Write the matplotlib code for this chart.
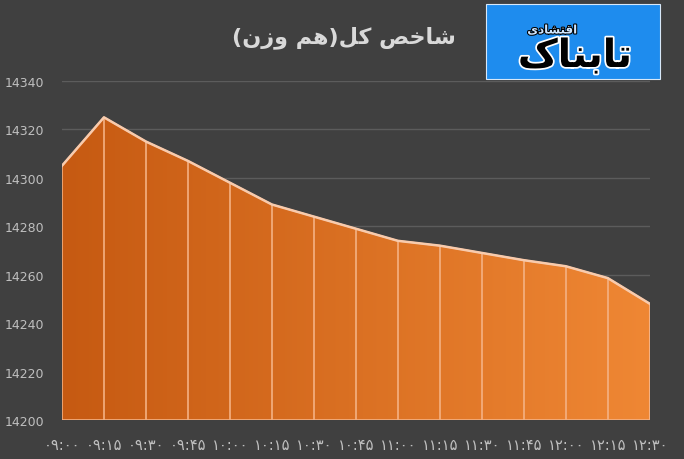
import numpy as np
import matplotlib
matplotlib.use("Agg")
import matplotlib.pyplot as plt
import matplotlib.patheffects as pe
from matplotlib.colors import LinearSegmentedColormap
from matplotlib.patches import Rectangle

plt.rcParams['font.family'] = ['DejaVu Sans']

# data
times = ['۰۹:۰۰', '۰۹:۱۵', '۰۹:۳۰', '۰۹:۴۵', '۱۰:۰۰', '۱۰:۱۵', '۱۰:۳۰', '۱۰:۴۵',
         '۱۱:۰۰', '۱۱:۱۵', '۱۱:۳۰', '۱۱:۴۵', '۱۲:۰۰', '۱۲:۱۵', '۱۲:۳۰']
values = [14305, 14325, 14315, 14307, 14298, 14289, 14284, 14279,
          14274, 14272, 14269, 14266, 14263.5, 14258.6, 14248]
yticks = [14200, 14220, 14240, 14260, 14280, 14300, 14320, 14340]

# Persian strings in visual order with presentation forms (matplotlib has no shaping)
title = "(\uFEE5\uFEAF\uFEED \uFEE2\uFEEB)\uFEDE\uFB90 \uFEBA\uFEA7\uFE8E\uFEB7"  # شاخص کل(هم وزن)
logo_big = "\uFB8E\uFE8E\uFEE8\uFE91\uFE8E\uFE97"          # تابناک
logo_small = "\uFEEF\uFEA9\uFE8E\uFEB8\uFE98\uFED7\uFE8D"  # اقتصادی

bg = '#404040'
fig = plt.figure(figsize=(6.84, 4.6), dpi=100, facecolor=bg)
ax = fig.add_axes([0.0906, 0.0848, 0.8594, 0.7369])
ax.set_facecolor(bg)

x = np.arange(len(values))
ymin, ymax = 14200, 14340

# gradient fill clipped to the area
poly = ax.fill_between(x, values, ymin, facecolor='none', edgecolor='#F4B183',
                       linewidth=1.2, zorder=3)
cmap = LinearSegmentedColormap.from_list('o', ['#C65A12', '#EF8734'])
grad = np.linspace(0, 1, 256).reshape(1, -1)
im = ax.imshow(grad, cmap=cmap, aspect='auto', extent=[0, len(values) - 1, ymin, ymax],
               zorder=2)
im.set_clip_path(poly.get_paths()[0], transform=ax.transData)

ax.vlines(x[1:-1], ymin, values[1:-1], color='#F4B183', linewidth=1.2, zorder=3)
ax.plot(x, values, color='#F8CBAD', linewidth=1.8, zorder=4)

ax.set_xlim(0, len(values) - 1)
ax.set_ylim(ymin, ymax)
ax.set_yticks(yticks)
ax.set_xticks(x)
ax.set_xticklabels(times)
ax.grid(axis='y', color='#5C5C5C', linewidth=1, zorder=1)
ax.set_axisbelow(True)
for s in ax.spines.values():
    s.set_visible(False)
ax.tick_params(length=0, colors='#BFBFBF')
ax.tick_params(axis='y', pad=13, labelsize=9)
ax.tick_params(axis='x', pad=12, labelsize=10.5)

fig.text(0.503, 0.918, title, color='#D9D9D9', fontsize=16, fontweight='bold',
         ha='center', va='center')

# logo box
fig.patches.append(Rectangle((486 / 684, 1 - 80 / 460), 174 / 684, 75 / 460,
                             transform=fig.transFigure, facecolor='#1E8CEE',
                             edgecolor='#D8E8F8', linewidth=0.8))
fig.text(575 / 684, 1 - 57 / 460, logo_big, color='black', fontsize=28,
         fontweight='bold', ha='center', va='center',
         path_effects=[pe.withStroke(linewidth=2.5, foreground='white')])
fig.text(552 / 684, 1 - 31 / 460, logo_small, color='#CFE6FF', fontsize=8.5,
         fontweight='bold', ha='center', va='center',
         path_effects=[pe.withStroke(linewidth=1.5, foreground='black')])

fig.savefig('out.png', dpi=100, facecolor=bg)
